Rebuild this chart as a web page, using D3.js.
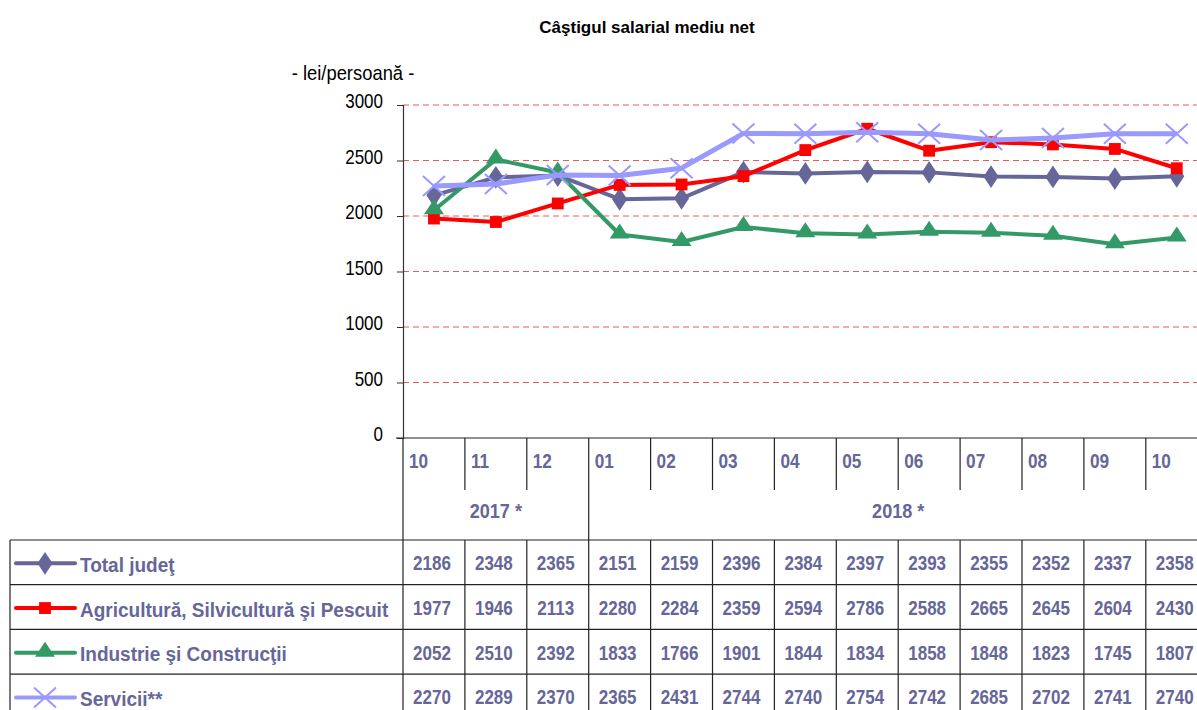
<!DOCTYPE html>
<html>
<head>
<meta charset="utf-8">
<script src="https://cdn.jsdelivr.net/npm/d3@7"></script>
<style>
  body { margin: 0; background: #fff; }
  svg { display: block; font-family: "Liberation Sans", Arial, sans-serif; }
</style>
</head>
<body>
<div id="chart"></div>
<script>
const months = ["10", "11", "12", "01", "02", "03", "04", "05", "06", "07", "08", "09", "10"];
const keys = months.map((m, i) => (i < 3 ? "2017-" : "2018-") + m);
const years = [
    { label: "2017 *", from: 0, to: 3 },
    { label: "2018 *", from: 3, to: 13 }
];
const yTicks = [0, 500, 1000, 1500, 2000, 2500, 3000];

const totalJudet = [2186, 2348, 2365, 2151, 2159, 2396, 2384, 2397, 2393, 2355, 2352, 2337, 2358];
const agricultura = [1977, 1946, 2113, 2280, 2284, 2359, 2594, 2786, 2588, 2665, 2645, 2604, 2430];
const industrie = [2052, 2510, 2392, 1833, 1766, 1901, 1844, 1834, 1858, 1848, 1823, 1745, 1807];
const servicii = [2270, 2289, 2370, 2365, 2431, 2744, 2740, 2754, 2742, 2685, 2702, 2741, 2740];

const series = [
    { name: "Total judeţ", values: totalJudet, color: "#666699", marker: "diamond" },
    { name: "Agricultură, Silvicultură şi Pescuit", values: agricultura, color: "#ff0000", marker: "square" },
    { name: "Industrie şi Construcţii", values: industrie, color: "#339966", marker: "triangle" },
    { name: "Servicii**", values: servicii, color: "#9999ff", marker: "cross" }
];

const W = 1197, H = 710;
const plotLeft = 403, plotTop = 105, plotBottom = 438;
const colW = 61.9;
const tableLeft = 10;
const yearRowTop = 490, dataTop = 540, rowH = 44.7;
const textColor = "#666699";

const svg = d3.select("#chart").append("svg")
    .attr("width", W)
    .attr("height", H);

const x = d3.scaleBand()
    .domain(keys)
    .range([plotLeft, plotLeft + colW * keys.length]);

const y = d3.scaleLinear()
    .domain([0, 3000])
    .range([plotBottom, plotTop]);

// condensed text: the original uses a narrow bold face
function label(g, tx, ty, str, opts) {
    return g.append("text")
        .attr("transform", `translate(${tx},${ty}) scale(${opts.sx || 1},1)`)
        .attr("text-anchor", opts.anchor || "start")
        .attr("font-size", opts.size)
        .attr("font-weight", opts.bold ? "bold" : "normal")
        .attr("fill", opts.color || "#000")
        .text(str);
}

// title
label(svg, 647, 33, "Câştigul salarial mediu net", { size: 17, bold: true, anchor: "middle", sx: 1.0 });
label(svg, 353, 80, "- lei/persoană -", { size: 20, anchor: "middle", sx: 0.92 });

// gridlines
svg.append("g")
    .selectAll("line")
    .data(yTicks.filter(d => d > 0))
    .join("line")
    .attr("x1", plotLeft).attr("x2", W)
    .attr("y1", d => y(d)).attr("y2", d => y(d))
    .attr("stroke", "#e65c5c")
    .attr("stroke-width", 1)
    .attr("stroke-dasharray", "6,4");

// y axis
const yAxis = svg.append("g")
    .attr("transform", `translate(${plotLeft},0)`)
    .call(d3.axisLeft(y).tickValues(yTicks).tickSize(6).tickFormat(() => ""));
yAxis.select(".domain").attr("stroke", "#333").attr("stroke-width", 1.2);
yAxis.selectAll(".tick line").attr("stroke", "#333");
const yLabels = svg.append("g");
yTicks.forEach(t => label(yLabels, 383, y(t) + 3, d3.format("d")(t), { size: 20, anchor: "end", sx: 0.85 }));

// table grid
const grid = svg.append("g").attr("stroke", "#222").attr("stroke-width", 1.2);
grid.append("line").attr("x1", plotLeft - 7).attr("x2", W).attr("y1", plotBottom).attr("y2", plotBottom);
keys.forEach((k, i) => {
    const xx = x(k);
    const isYearEdge = years.some(yr => yr.from === i);
    grid.append("line")
        .attr("x1", xx).attr("x2", xx)
        .attr("y1", plotBottom)
        .attr("y2", isYearEdge ? H : yearRowTop);
    if (!isYearEdge) {
        grid.append("line")
            .attr("x1", xx).attr("x2", xx)
            .attr("y1", dataTop).attr("y2", H);
    }
});
grid.append("line").attr("x1", tableLeft).attr("x2", W).attr("y1", dataTop).attr("y2", dataTop);
series.forEach((s, i) => {
    grid.append("line")
        .attr("x1", tableLeft).attr("x2", W)
        .attr("y1", dataTop + rowH * (i + 1)).attr("y2", dataTop + rowH * (i + 1));
});
grid.append("line").attr("x1", tableLeft).attr("x2", tableLeft).attr("y1", dataTop).attr("y2", H);

// month labels
const monthG = svg.append("g");
keys.forEach((k, i) => label(monthG, x(k) + 6, plotBottom + 30, months[i],
    { size: 21, bold: true, color: textColor, sx: 0.82 }));

// year labels
const yearG = svg.append("g");
years.forEach(d => {
    const cx = (x(keys[d.from]) + x(keys[d.to - 1]) + x.bandwidth()) / 2;
    label(yearG, cx, yearRowTop + 28, d.label, { size: 21, bold: true, color: textColor, anchor: "middle", sx: 0.86 });
});

const diamond = d3.symbol().type(d3.symbolDiamond).size(150);
const square = d3.symbol().type(d3.symbolSquare).size(140);
const triangle = d3.symbol().type(d3.symbolTriangle).size(130);

function drawMarker(g, type, color) {
    if (type === "diamond") {
        g.append("path").attr("d", diamond).attr("fill", color).attr("transform", "scale(1.15,1)");
    } else if (type === "square") {
        g.append("path").attr("d", square).attr("fill", color);
    } else if (type === "triangle") {
        g.append("path").attr("d", triangle).attr("fill", color).attr("transform", "translate(0,-1) scale(1.15,1)");
    } else {
        g.append("path").attr("d", "M-11,-10L11,10M-11,10L11,-10")
            .attr("stroke", color).attr("stroke-width", 2).attr("fill", "none");
    }
}

// lines
const line = d3.line()
    .x((d, i) => x(keys[i]) + x.bandwidth() / 2)
    .y(d => y(d));

series.forEach(s => {
    const g = svg.append("g");
    g.append("path")
        .datum(s.values)
        .attr("d", line)
        .attr("fill", "none")
        .attr("stroke", s.color)
        .attr("stroke-width", s.marker === "cross" ? 5 : 4)
        .attr("stroke-linejoin", "round");
    s.values.forEach((v, i) => {
        const m = g.append("g")
            .attr("transform", `translate(${x(keys[i]) + x.bandwidth() / 2},${y(v)})`);
        drawMarker(m, s.marker, s.color);
    });
});

// data rows
series.forEach((s, r) => {
    const cy = dataTop + rowH * r + rowH / 2;
    const leg = svg.append("g");
    leg.append("line")
        .attr("x1", 16).attr("x2", 75)
        .attr("y1", cy + 1).attr("y2", cy + 1)
        .attr("stroke", s.color)
        .attr("stroke-width", 4)
        .attr("stroke-linecap", "round");
    const m = leg.append("g").attr("transform", `translate(45,${cy + 1})`);
    drawMarker(m, s.marker, s.color);
    label(leg, 80, cy + 9.5, s.name, { size: 21, bold: true, color: textColor, sx: 0.905 });

    const vals = svg.append("g");
    s.values.forEach((v, i) => label(vals, x(keys[i]) + x.bandwidth() / 2 - 2, cy + 8, v,
        { size: 21, bold: true, color: textColor, anchor: "middle", sx: 0.81 }));
});
</script>
</body>
</html>
